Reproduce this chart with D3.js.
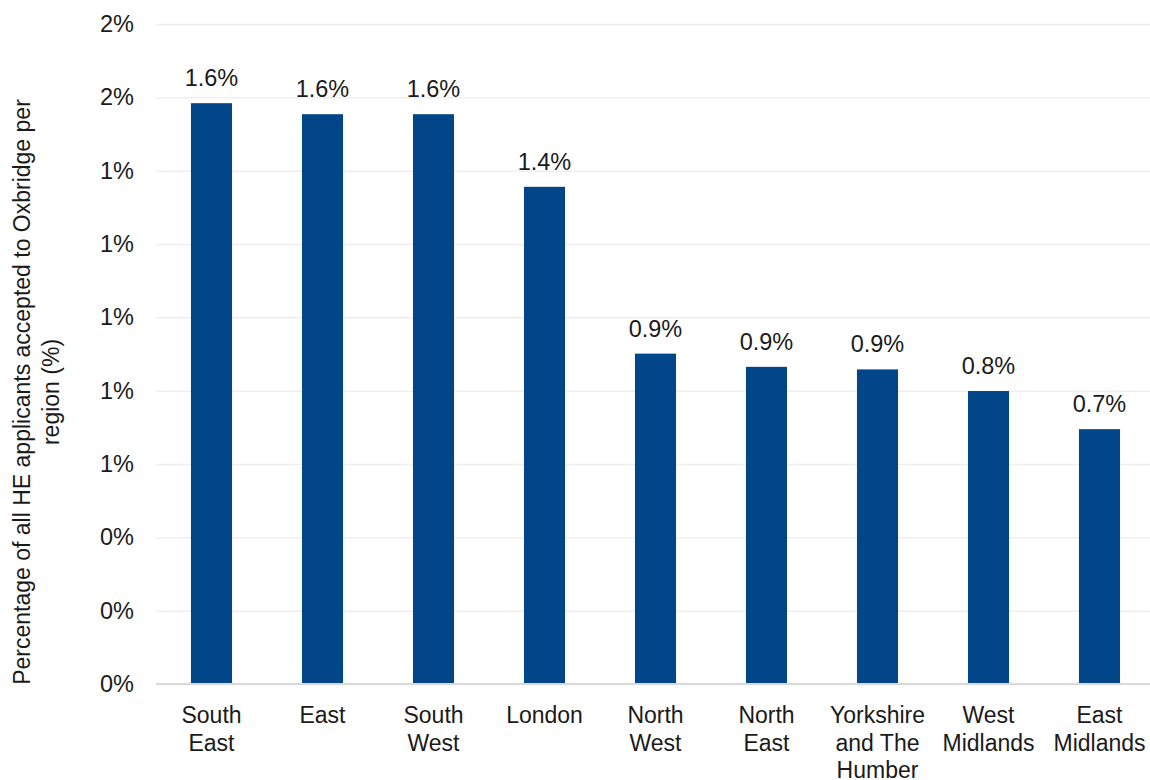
<!DOCTYPE html>
<html>
<head>
<meta charset="utf-8">
<script src="https://cdn.jsdelivr.net/npm/d3@7"></script>
<style>
  html, body { margin: 0; padding: 0; background: #fff; }
  svg { display: block; }
  text { font-family: "Liberation Sans", Arial, sans-serif; fill: #1a1a1a; }
</style>
</head>
<body>
<svg id="chart" width="1150" height="780"></svg>
<script>
const categories = [
  ["South", "East"],
  ["East"],
  ["South", "West"],
  ["London"],
  ["North", "West"],
  ["North", "East"],
  ["Yorkshire", "and The", "Humber"],
  ["West", "Midlands"],
  ["East", "Midlands"]
];
const values = [1.584, 1.554, 1.554, 1.356, 0.901, 0.865, 0.858, 0.799, 0.695];
const valueLabels = ["1.6%", "1.6%", "1.6%", "1.4%", "0.9%", "0.9%", "0.9%", "0.8%", "0.7%"];
const tickValues = [0, 0.2, 0.4, 0.6, 0.8, 1.0, 1.2, 1.4, 1.6, 1.8];
const tickLabels = ["0%", "0%", "0%", "1%", "1%", "1%", "1%", "1%", "2%", "2%"];
const yTitle = ["Percentage of all HE applicants accepted to Oxbridge per", "region (%)"];

const FONT = '"Liberation Sans", Arial, sans-serif';
const svg = d3.select("#chart");
const mLeft = 156, mRight = 1155, mTop = 24, mBottom = 684;

const keys = categories.map((c, i) => i);
const x = d3.scaleBand().domain(keys).range([mLeft, mRight]).paddingInner(0.63).paddingOuter(0.315);
const y = d3.scaleLinear().domain([0, 1.8]).range([mBottom, mTop]);

// gridlines
const yAxis = d3.axisLeft(y).tickValues(tickValues).tickSize(-(mRight - mLeft)).tickPadding(22)
  .tickFormat((d, i) => tickLabels[i]);
const gy = svg.append("g").attr("transform", `translate(${mLeft},0)`).call(yAxis);
gy.select(".domain").remove();
gy.selectAll(".tick line").attr("stroke", "#efefef").attr("stroke-width", 1.5);
gy.selectAll(".tick text").attr("font-size", 23.5).attr("fill", "#1a1a1a")
  .attr("font-family", FONT);

// bars
svg.append("g").selectAll("rect").data(values).join("rect")
  .attr("x", (d, i) => x(i))
  .attr("width", x.bandwidth())
  .attr("y", d => y(d))
  .attr("height", d => y(0) - y(d))
  .attr("fill", "#024589");

// baseline
svg.append("line").attr("x1", mLeft).attr("x2", mRight).attr("y1", y(0)).attr("y2", y(0))
  .attr("stroke", "#d9d9d9").attr("stroke-width", 2);

// value labels
svg.append("g").selectAll("text").data(values).join("text")
  .attr("x", (d, i) => x(i) + x.bandwidth() / 2)
  .attr("y", d => y(d) - 17)
  .attr("text-anchor", "middle")
  .attr("font-size", 23.5)
  .text((d, i) => valueLabels[i]);

// category labels
const xAxis = d3.axisBottom(x).tickSize(0).tickFormat(() => "");
const gx = svg.append("g").attr("transform", `translate(0,${mBottom})`).call(xAxis);
gx.select(".domain").remove();
gx.selectAll(".tick").each(function(d) {
  const t = d3.select(this).append("text")
    .attr("text-anchor", "middle")
    .attr("font-size", 23)
    .attr("font-family", FONT)
    .attr("fill", "#1a1a1a")
    .attr("y", 39);
  categories[d].forEach((line, j) => {
    t.append("tspan").attr("x", 0).attr("dy", j === 0 ? 0 : 27.5).text(line);
  });
});

// y title
const title = svg.append("text")
  .attr("transform", "translate(30,392) rotate(-90)")
  .attr("text-anchor", "middle")
  .attr("font-size", 23);
yTitle.forEach((line, j) => {
  title.append("tspan").attr("x", 0).attr("dy", j === 0 ? 0 : 29).text(line);
});
</script>
</body>
</html>
